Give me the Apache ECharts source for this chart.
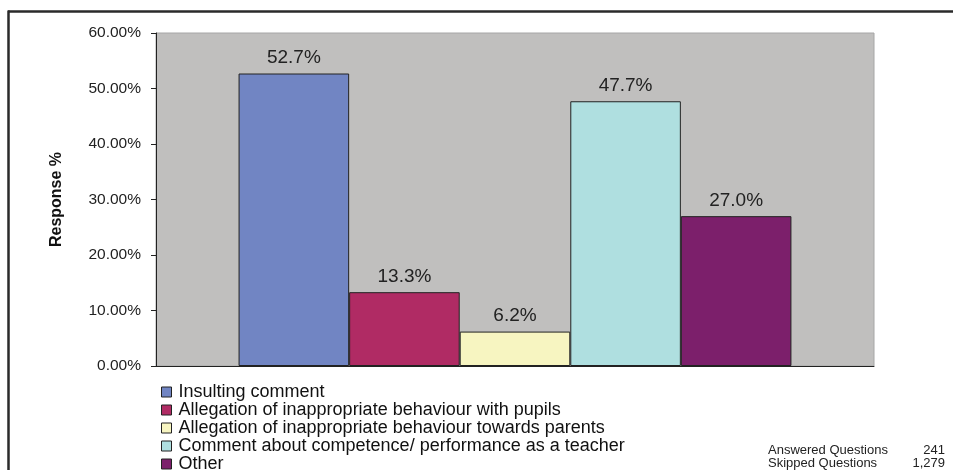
<!DOCTYPE html>
<html>
<head>
<meta charset="utf-8">
<script src="https://cdn.jsdelivr.net/npm/echarts@6/dist/echarts.min.js"></script>
<style>
  html, body { margin: 0; padding: 0; background: #fff; overflow: hidden; }
  #chart { width: 953px; height: 490px; }
</style>
</head>
<body>
<div id="chart"></div>
<script>
// Response categories and their share of answers (%)
const categories = [
  'Insulting comment',
  'Allegation of inappropriate behaviour with pupils',
  'Allegation of inappropriate behaviour towards parents',
  'Comment about competence/ performance as a teacher',
  'Other'
];
const responsePct = [52.7, 13.3, 6.2, 47.7, 27.0];
const barColors = ['#7185c3', '#b02b64', '#f7f5c1', '#afdfe0', '#7c1f6b'];
const yTicks = [0, 10, 20, 30, 40, 50, 60];
const answeredQuestions = '241';
const skippedQuestions = '1,279';

const FONT = 'Liberation Sans, Arial, sans-serif';
const chart = echarts.init(document.getElementById('chart'), null, { renderer: 'canvas' });

const series = categories.map((name, i) => ({
  name: name,
  type: 'bar',
  data: [responsePct[i]],
  barGap: '0%',
  barCategoryGap: '23%',
  itemStyle: { color: barColors[i], borderColor: '#222', borderWidth: 1 },
  label: {
    show: true,
    position: 'top',
    distance: 6,
    formatter: p => p.value.toFixed(1) + '%',
    fontFamily: FONT,
    fontSize: 19,
    color: '#222'
  }
}));

chart.setOption({
  animation: false,
  textStyle: { fontFamily: FONT },
  grid: {
    left: 156, right: 79, top: 33, bottom: 124,
    show: true, backgroundColor: '#c0bfbe', borderColor: '#a6a6a6', borderWidth: 1
  },
  xAxis: {
    type: 'category',
    data: [''],
    axisLine: { lineStyle: { color: '#222', width: 1 } },
    axisTick: { show: false },
    axisLabel: { show: false },
    splitLine: { show: false }
  },
  yAxis: {
    type: 'value',
    min: yTicks[0],
    max: yTicks[yTicks.length - 1],
    interval: yTicks[1] - yTicks[0],
    name: 'Response %',
    nameLocation: 'middle',
    nameRotate: 90,
    nameGap: 91,
    nameTextStyle: { fontSize: 16, fontWeight: 'bold', color: '#111' },
    axisLine: { show: true, lineStyle: { color: '#222', width: 1 } },
    axisTick: { show: true, length: 5, lineStyle: { color: '#222' } },
    axisLabel: {
      formatter: v => v.toFixed(2) + '%',
      fontSize: 15.5, color: '#222', margin: 15
    },
    splitLine: { show: false }
  },
  legend: {
    orient: 'vertical',
    left: 161,
    top: 383,
    padding: 0,
    itemWidth: 10,
    itemHeight: 10,
    itemGap: 0,
    icon: 'rect',
    itemStyle: { borderColor: '#222', borderWidth: 1 },
    textStyle: { fontSize: 18, color: '#111', lineHeight: 17.7, padding: [0, 0, 0, 2] },
    data: categories
  },
  graphic: [
    { type: 'line', shape: { x1: 8, y1: 11.5, x2: 953, y2: 11.5 }, style: { stroke: '#2a2a2a', lineWidth: 2.5 } },
    { type: 'line', shape: { x1: 8.5, y1: 10.5, x2: 8.5, y2: 490 }, style: { stroke: '#2a2a2a', lineWidth: 2.5 } },
    { type: 'text', left: 768, top: 444, style: { text: 'Answered Questions', fontSize: 13, fill: '#222', fontFamily: FONT } },
    { type: 'text', left: 768, top: 457, style: { text: 'Skipped Questions', fontSize: 13, fill: '#222', fontFamily: FONT } },
    { type: 'text', right: 8, top: 444, style: { text: answeredQuestions, fontSize: 13, fill: '#222', align: 'right', fontFamily: FONT } },
    { type: 'text', right: 8, top: 457, style: { text: skippedQuestions, fontSize: 13, fill: '#222', align: 'right', fontFamily: FONT } }
  ],
  series: series
});
</script>
</body>
</html>
